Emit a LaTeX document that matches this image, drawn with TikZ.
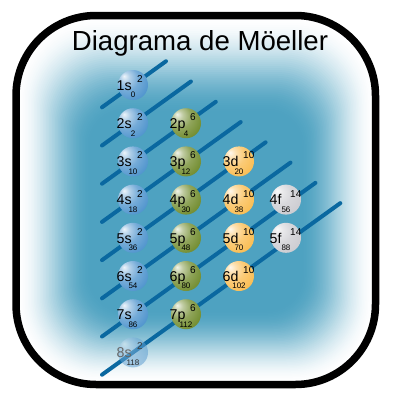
\documentclass[tikz,border=0pt]{standalone}
\usepackage{fontspec}
\setmainfont{Liberation Sans}
\usetikzlibrary{positioning}
\definecolor{bgteal}{RGB}{78,162,193}
\definecolor{diagblue}{RGB}{10,104,160}
\definecolor{sblue}{RGB}{82,150,206}
\definecolor{pgreen}{RGB}{116,142,50}
\definecolor{dorange}{RGB}{250,190,85}
\definecolor{fgray}{RGB}{205,205,210}
\colorlet{orbc}{sblue}
\pgfdeclareradialshading[orbc]{orbball}{\pgfpoint{-15bp}{15bp}}{color(0bp)=(orbc!10!white); color(8bp)=(orbc!45!white); color(20bp)=(orbc!80!white); color(35bp)=(orbc); color(55bp)=(orbc!90!black); color(75bp)=(orbc!75!black)}

\begin{document}
\begin{tikzpicture}[x=1pt, y=-1pt,
	orbital/.style={circle, minimum size=30pt, inner sep=0pt, shading=orbball},
	orbcol/.code={\colorlet{orbc}{#1}},
	sorb/.style={orbital, orbcol=sblue},
	porb/.style={orbital, orbcol=pgreen},
	dorb/.style={orbital, orbcol=dorange},
	forb/.style={orbital, orbcol=fgray},
	diag/.style={draw=diagblue, line width=4pt, line cap=round},
	mainlab/.style={font=\fontsize{14.2}{15}\selectfont, inner sep=0pt, anchor=base west},
	suplab/.style={font=\fontsize{10}{11}\selectfont, inner sep=0pt, anchor=base west},
	sublab/.style={font=\fontsize{8}{9}\selectfont, inner sep=0pt, anchor=base}]

\useasboundingbox (0,0) rectangle (400,400);

% fondo
\foreach \i in {0,...,50} {
	\pgfmathsetmacro\d{1.5*\i}
	\pgfmathsetmacro\r{80-0.6*\d}
	\pgfmathsetmacro\p{100*(3*(\i/50)^2-2*(\i/50)^3)}
	\fill[bgteal!\p!white, rounded corners=\r pt] (16+\d, 15.5+1.3*\d) rectangle (375.5-\d, 384.5-\d);
}
\draw[line width=7.5pt, rounded corners=80pt] (16,15.5) rectangle (375.5,384.5);

\node[font=\fontsize{27.6}{30}\selectfont, anchor=base, inner sep=0pt] (title) at (200,50) {Diagrama de Möeller};

% diagonales
\foreach \n in {1,...,8} {
	\pgfmathsetmacro\ys{85+38.2*(\n-1)}
	\pgfmathsetmacro\xe{166+24.9*(\n-1)}
	\coordinate (lo\n) at (102, {\ys+0.72*31});
	\coordinate (hi\n) at ({\xe}, {\ys-0.72*(\xe-133)});
	\draw[diag] (lo\n) -- (hi\n);
}

% orbitales
\foreach \lab/\sty/\l/\n/\sup/\sub in {1s/sorb/0/1/2/0, 2s/sorb/0/2/2/2, 3s/sorb/0/3/2/10,
	4s/sorb/0/4/2/18, 5s/sorb/0/5/2/36, 6s/sorb/0/6/2/54, 7s/sorb/0/7/2/86,
	2p/porb/1/2/6/4, 3p/porb/1/3/6/12, 4p/porb/1/4/6/30, 5p/porb/1/5/6/48,
	6p/porb/1/6/6/80, 7p/porb/1/7/6/112,
	3d/dorb/2/3/10/20, 4d/dorb/2/4/10/38, 5d/dorb/2/5/10/70, 6d/dorb/2/6/10/102,
	4f/forb/3/4/14/56, 5f/forb/3/5/14/88} {
	\pgfmathsetmacro\cx{{133,186,239,286}[\l]}
	\node[\sty] (\lab) at ({\cx}, {85+38.2*(\n-1)}) {};
	\node[mainlab] (\lab-m) at ([shift={(-16.5,5.2)}]\lab.center) {\lab};
	\node[suplab] (\lab-e) at ([shift={(4,-2.5)}]\lab.center) {\sup};
	\node[sublab] (\lab-n) at ([shift={(0,12.8)}]\lab.center) {\sub};
}

% 8s (atenuado)
\node[sorb, opacity=0.5] (8s) at (133,352.4) {};
\node[mainlab, text=black!60] (8s-m) at ([shift={(-16.5,5.2)}]8s.center) {8s};
\node[suplab, text=black!75] (8s-e) at ([shift={(4,-2.5)}]8s.center) {2};
\node[sublab, text=black!85] (8s-n) at ([shift={(0,12.8)}]8s.center) {118};
\end{tikzpicture}
\end{document}
